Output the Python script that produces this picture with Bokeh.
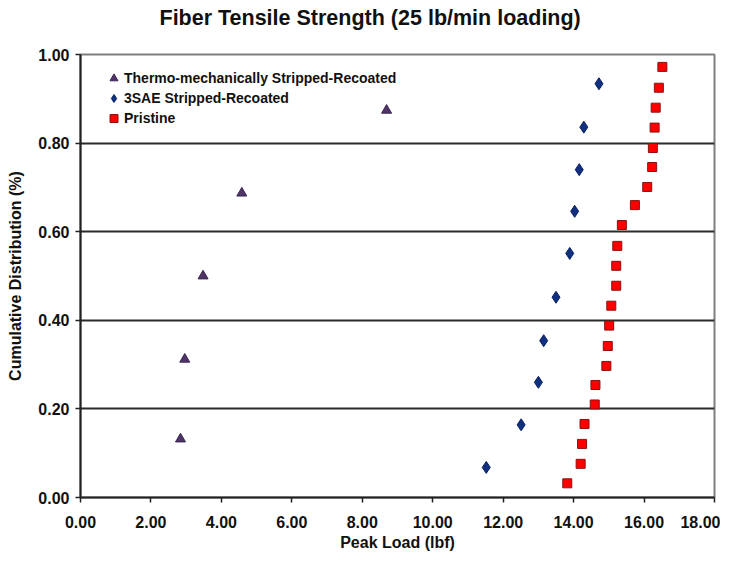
from bokeh.plotting import figure
from bokeh.models import Range1d, Title, Legend, LegendItem, FixedTicker, NumeralTickFormatter
from bokeh.embed import file_html
from bokeh.resources import INLINE

# ---- data ----
thermo_load = [2.84, 2.96, 3.48, 4.58, 8.69]
thermo_cdf = [0.132, 0.312, 0.500, 0.687, 0.874]

sae_load = [11.52, 12.51, 13.00, 13.15, 13.50, 13.89, 14.03, 14.16, 14.29, 14.72]
sae_cdf = [0.068, 0.164, 0.260, 0.354, 0.452, 0.551, 0.646, 0.740, 0.836, 0.934]

pristine_load = [13.82, 14.20, 14.24, 14.31, 14.60, 14.62, 14.93, 14.97, 15.01, 15.07,
                 15.21, 15.21, 15.24, 15.37, 15.74, 16.09, 16.23, 16.25, 16.30, 16.33,
                 16.42, 16.52]
pristine_cdf = [0.032, 0.076, 0.121, 0.166, 0.210, 0.254, 0.297, 0.342, 0.388, 0.433,
                0.478, 0.523, 0.568, 0.615, 0.660, 0.701, 0.746, 0.789, 0.835, 0.880,
                0.925, 0.972]

x_ticks = [0, 2, 4, 6, 8, 10, 12, 14, 16, 18]
y_ticks = [0.0, 0.2, 0.4, 0.6, 0.8, 1.0]

series_names = ["Thermo-mechanically Stripped-Recoated", "3SAE Stripped-Recoated", "Pristine"]
title_text = "Fiber Tensile Strength (25 lb/min loading)"
x_label = "Peak Load (lbf)"
y_label = "Cumulative Distribution (%)"

FONT = "Liberation Sans"

p = figure(width=720, height=555, output_backend="svg", toolbar_location=None,
           x_range=Range1d(0, 18), y_range=Range1d(0, 1.0),
           min_border_left=80, min_border_right=6, min_border_top=0, min_border_bottom=58)
p.background_fill_color = "white"
p.border_fill_color = "white"
p.outline_line_color = "#7f7f7f"
p.outline_line_width = 2

# axes
for ax in (p.xaxis[0], p.yaxis[0]):
    ax.axis_line_color = "#222222"
    ax.axis_line_width = 2
    ax.major_tick_line_color = "#222222"
    ax.major_tick_line_width = 1.5
    ax.major_tick_out = 5
    ax.major_tick_in = 0
    ax.minor_tick_line_color = None
    ax.major_label_text_font = FONT
    ax.major_label_text_font_style = "bold"
    ax.major_label_text_font_size = "16px"
    ax.major_label_text_color = "#111111"
    ax.axis_label_text_font = FONT
    ax.axis_label_text_font_style = "bold"
    ax.axis_label_text_font_size = "16px"
    ax.axis_label_text_color = "#111111"

p.xaxis.ticker = FixedTicker(ticks=x_ticks)
p.yaxis.ticker = FixedTicker(ticks=y_ticks)
p.xaxis.formatter = NumeralTickFormatter(format="0.00")
p.yaxis.formatter = NumeralTickFormatter(format="0.00")
p.xaxis.major_label_standoff = 13
p.yaxis.major_label_standoff = 6
p.xaxis.axis_label = x_label
p.yaxis.axis_label = y_label
p.xaxis.axis_label_standoff = 3
p.yaxis.axis_label_standoff = 11

p.xgrid.grid_line_color = None
p.ygrid.ticker = FixedTicker(ticks=y_ticks)
p.ygrid.grid_line_color = "#2a2a2a"
p.ygrid.grid_line_width = 2

r_thermo = p.scatter(thermo_load, thermo_cdf, marker="triangle", size=10,
                     fill_color="#4e3566", line_color="#3a2450", line_width=1)
r_sae = p.scatter(sae_load, sae_cdf, marker="diamond", size=12,
                  fill_color="#10307f", line_color="#0a2060", line_width=1)
r_pristine = p.scatter(pristine_load, pristine_cdf, marker="square", size=9,
                       fill_color="#ff0000", line_color="#8a1010", line_width=1)

legend = Legend(items=[LegendItem(label=series_names[0], renderers=[r_thermo]),
                       LegendItem(label=series_names[1], renderers=[r_sae]),
                       LegendItem(label=series_names[2], renderers=[r_pristine])],
                location=(23, 369))
legend.border_line_color = None
legend.background_fill_alpha = 0
legend.padding = 10
legend.spacing = 0
legend.glyph_width = 21
legend.glyph_height = 20
legend.label_standoff = 0
legend.label_text_font = FONT
legend.label_text_font_style = "bold"
legend.label_text_font_size = "14px"
legend.label_text_color = "#111111"
p.add_layout(legend)

# spacer between title and frame (nearest to the frame), then the main title on top
spacer = Title(text=" ", text_font_size="2px", standoff=14)
p.add_layout(spacer, "above")
main_title = Title(text=title_text, align="left", offset=79, vertical_align="top", standoff=10,
                   text_font=FONT, text_font_style="bold", text_font_size="21.5px",
                   text_color="#111111")
p.add_layout(main_title, "above")

with open("out.html", "w") as f:
    f.write(file_html(p, INLINE))
